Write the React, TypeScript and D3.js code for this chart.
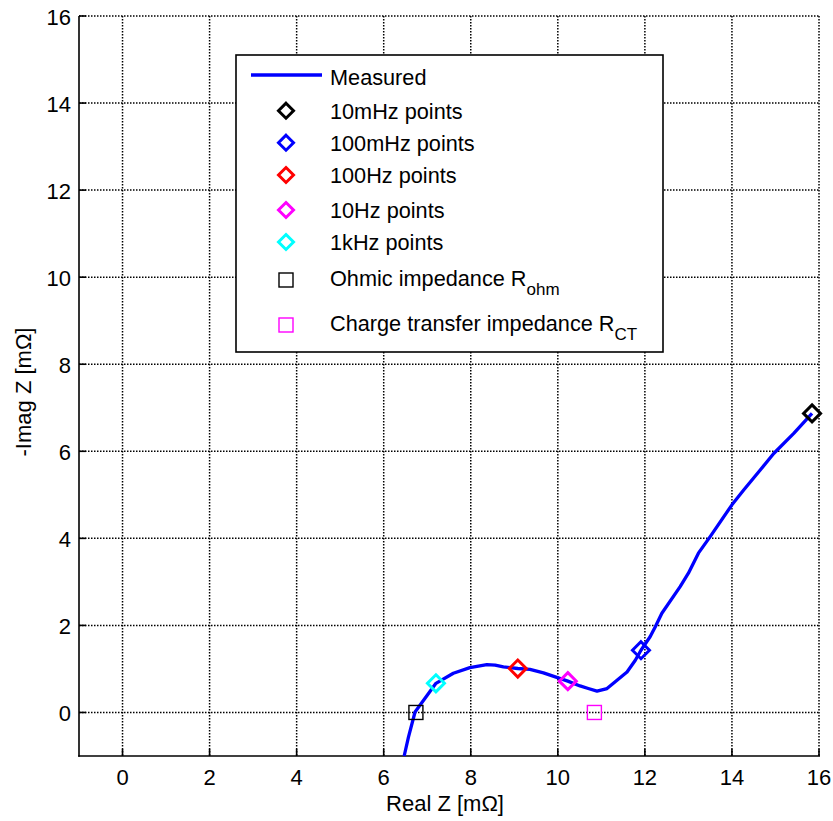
import React from "react";
import * as d3 from "d3";

// Measured Nyquist curve (Real Z, -Imag Z) in mΩ
const realZ = [6.47, 6.57, 6.72, 7.2, 7.6, 7.98, 8.37, 8.56, 8.75, 9.08, 9.36, 9.67, 10.23, 10.51, 10.7, 10.9, 11.13, 11.36, 11.59, 11.78, 11.91, 12.12, 12.24, 12.39, 12.81, 13.0, 13.23, 13.5, 14.0, 14.27, 14.65, 14.96, 15.42, 15.84];
const imagZ = [-1.0, -0.56, 0.01, 0.67, 0.9, 1.03, 1.1, 1.09, 1.05, 1.01, 0.99, 0.91, 0.72, 0.61, 0.55, 0.49, 0.55, 0.74, 0.93, 1.2, 1.43, 1.74, 1.97, 2.28, 2.89, 3.2, 3.66, 4.04, 4.77, 5.11, 5.57, 5.95, 6.41, 6.87];

// Frequency marker points
const markerLabels = ["10mHz points", "100mHz points", "100Hz points", "10Hz points", "1kHz points"];
const markerColors = ["#000000", "#0000ff", "#ff0000", "#ff00ff", "#00ffff"];
const markerX = [15.84, 11.91, 9.08, 10.23, 7.2];
const markerY = [6.87, 1.43, 1.01, 0.72, 0.67];

// Impedance squares
const squareX = [6.74, 10.84];
const squareY = [0, 0];
const squareColors = ["#000000", "#ff00ff"];
const squareLabels = ["Ohmic impedance R", "Charge transfer impedance R"];
const squareSubs = ["ohm", "CT"];

const xTicks = [0, 2, 4, 6, 8, 10, 12, 14, 16];
const yTicks = [0, 2, 4, 6, 8, 10, 12, 14, 16];

const W = 833;
const H = 821;
const left = 79;
const top = 16;
const right = 819;
const bottom = 756;
const FONT = "'Liberation Sans', Arial, Helvetica, sans-serif";

export default function App() {
  const x = d3.scaleLinear().domain([-1, 16]).range([left, right]);
  const y = d3.scaleLinear().domain([-1, 16]).range([bottom, top]);
  const line = d3
    .line<number>()
    .x((_, i) => x(realZ[i]))
    .y((_, i) => y(imagZ[i]))
    .curve(d3.curveLinear);
  const pathD = line(realZ) || "";

  const diamond = (cx: number, cy: number, r: number) =>
    `M${cx},${cy - r}L${cx + r},${cy}L${cx},${cy + r}L${cx - r},${cy}Z`;

  const legX = 236,
    legY = 55,
    legW = 427,
    legH = 297;
  const markerRowY = [110.7, 142.7, 175, 210, 242];
  const squareRowY = [280, 325];
  const textX = 330;
  const mX = 286;

  return (
    <svg
      width={W}
      height={H}
      style={{ position: "absolute", left: 0, top: 0, background: "#fff" }}
      fontFamily={FONT}
    >
      <rect x={0} y={0} width={W} height={H} fill="#fff" />
      {/* grid */}
      <g stroke="#000" strokeWidth={1.5} strokeDasharray="1.5,1.5" fill="none">
        {xTicks.map((t) => (
          <line key={"gx" + t} x1={x(t)} x2={x(t)} y1={top} y2={bottom} />
        ))}
        {yTicks.map((t) => (
          <line key={"gy" + t} x1={left} x2={right} y1={y(t)} y2={y(t)} />
        ))}
      </g>
      {/* axes */}
      <g stroke="#000" strokeWidth={1.6}>
        <line x1={left} x2={left} y1={top} y2={bottom + 0.8} />
        <line x1={left - 0.8} x2={right + 1} y1={bottom} y2={bottom} />
        {xTicks.map((t) => (
          <line key={"tx" + t} x1={x(t)} x2={x(t)} y1={bottom} y2={bottom - 7} />
        ))}
        {yTicks.map((t) => (
          <line key={"ty" + t} x1={left} x2={left + 7} y1={y(t)} y2={y(t)} />
        ))}
      </g>
      {/* tick labels */}
      <g fontSize={22} fill="#000">
        {xTicks.map((t) => (
          <text key={"lx" + t} x={x(t)} y={bottom + 29} textAnchor="middle">
            {t}
          </text>
        ))}
        {yTicks.map((t) => (
          <text key={"ly" + t} x={left - 8} y={y(t) + 9} textAnchor="end">
            {t}
          </text>
        ))}
      </g>
      {/* axis labels */}
      <text x={(left + right) / 2 - 4} y={811} textAnchor="middle" fontSize={22} fill="#000">
        Real Z [mΩ]
      </text>
      <text
        transform={`translate(31,${(top + bottom) / 2 + 6}) rotate(-90)`}
        textAnchor="middle"
        fontSize={22}
        fill="#000"
      >
        -Imag Z [mΩ]
      </text>
      {/* curve */}
      <path d={pathD} fill="none" stroke="#0000ff" strokeWidth={3.3} strokeLinejoin="round" />
      {/* squares */}
      {squareX.map((v, i) => (
        <rect
          key={"sq" + i}
          x={x(v) - 7}
          y={y(squareY[i]) - 7}
          width={14}
          height={14}
          fill="none"
          stroke={squareColors[i]}
          strokeWidth={1.4}
        />
      ))}
      {/* diamonds */}
      {markerX.map((v, i) => (
        <path
          key={"dm" + i}
          d={diamond(x(v), y(markerY[i]), 8.5)}
          fill="none"
          stroke={markerColors[i]}
          strokeWidth={3}
        />
      ))}
      {/* legend */}
      <rect x={legX} y={legY} width={legW} height={legH} fill="#fff" stroke="#000" strokeWidth={1.6} />
      <line x1={251} x2={322} y1={75} y2={75} stroke="#0000ff" strokeWidth={3.3} />
      <text x={textX} y={85} fontSize={21.7} fill="#000">
        Measured
      </text>
      {markerLabels.map((lab, i) => (
        <g key={"lm" + i}>
          <path d={diamond(mX, markerRowY[i], 7.5)} fill="none" stroke={markerColors[i]} strokeWidth={3} />
          <text x={textX} y={markerRowY[i] + 8} fontSize={21.7} fill="#000">
            {lab}
          </text>
        </g>
      ))}
      {squareLabels.map((lab, i) => (
        <g key={"ls" + i}>
          <rect
            x={mX - 7}
            y={squareRowY[i] - 7}
            width={14}
            height={14}
            fill="none"
            stroke={squareColors[i]}
            strokeWidth={1.4}
          />
          <text x={textX} y={squareRowY[i] + 6} fontSize={21.7} fill="#000">
            {lab}
            <tspan fontSize={17} dy={9}>
              {squareSubs[i]}
            </tspan>
          </text>
        </g>
      ))}
    </svg>
  );
}
